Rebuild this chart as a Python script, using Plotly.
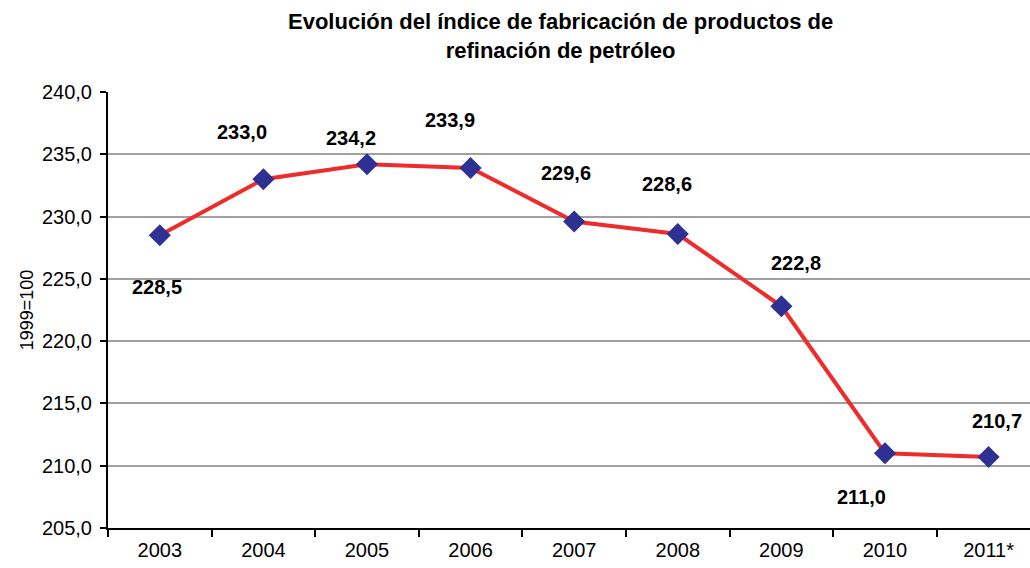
import plotly.graph_objects as go

# Index of manufacture of petroleum refining products (1999=100)
years = ["2003", "2004", "2005", "2006", "2007", "2008", "2009", "2010", "2011*"]
index_values = [228.5, 233.0, 234.2, 233.9, 229.6, 228.6, 222.8, 211.0, 210.7]
value_labels = ["228,5", "233,0", "234,2", "233,9", "229,6", "228,6", "222,8", "211,0", "210,7"]

# pixel offsets of each value label relative to its point
label_dx = [-3, -21, -16, -21, -8, -11, 15, -23, 8]
label_dy = [-52, 47, 26, 48, 49, 50, 43, -44, 36]

LINE_RED = "#EE2C2C"
MARKER_BLUE = "#2E3192"
FONT = "Liberation Sans, Arial, sans-serif"

fig = go.Figure()
fig.add_trace(go.Scatter(
    x=years, y=index_values, mode="lines+markers",
    line=dict(color=LINE_RED, width=4),
    marker=dict(symbol="diamond", size=17, color=MARKER_BLUE),
    hoverinfo="x+y", showlegend=False,
))

# category positions are addressed by index so numeric-looking names are not cast
for i, (v, txt, dx, dy) in enumerate(zip(index_values, value_labels, label_dx, label_dy)):
    fig.add_annotation(
        x=i, y=v, text=f"<b>{txt}</b>", showarrow=False,
        xshift=dx, yshift=dy,
        font=dict(family=FONT, size=20, color="black"),
    )

fig.add_annotation(
    xref="paper", yref="paper", x=0.491, y=1, yshift=56, yanchor="middle",
    text="<b>Evolución del índice de fabricación de productos de<br>refinación de petróleo</b>",
    showarrow=False, align="center",
    font=dict(family=FONT, size=22, color="black"),
)

fig.update_layout(
    width=1030, height=568,
    margin=dict(l=108, r=0, t=92, b=40),
    paper_bgcolor="white", plot_bgcolor="white",
    separators=", ",
    font=dict(family=FONT, size=20, color="black"),
    xaxis=dict(
        type="category", range=[-0.5, 8.4],
        showline=True, linecolor="black", linewidth=2,
        ticks="outside", tickson="boundaries", ticklen=7,
        tickwidth=2, tickcolor="black",
        showgrid=False, zeroline=False,
        tickfont=dict(family=FONT, size=20),
        ticklabelstandoff=3,
    ),
    yaxis=dict(
        range=[205, 240], dtick=5, tickformat=".1f",
        showline=True, linecolor="black", linewidth=2,
        ticks="outside", ticklen=6, tickwidth=2, tickcolor="black",
        showgrid=True, gridcolor="#A0A0A0", gridwidth=2,
        zeroline=False,
        tickfont=dict(family=FONT, size=20),
        ticklabelstandoff=4,
        title=dict(text="1999=100", font=dict(family=FONT, size=18), standoff=4),
    ),
)

fig.write_html("out.html")
